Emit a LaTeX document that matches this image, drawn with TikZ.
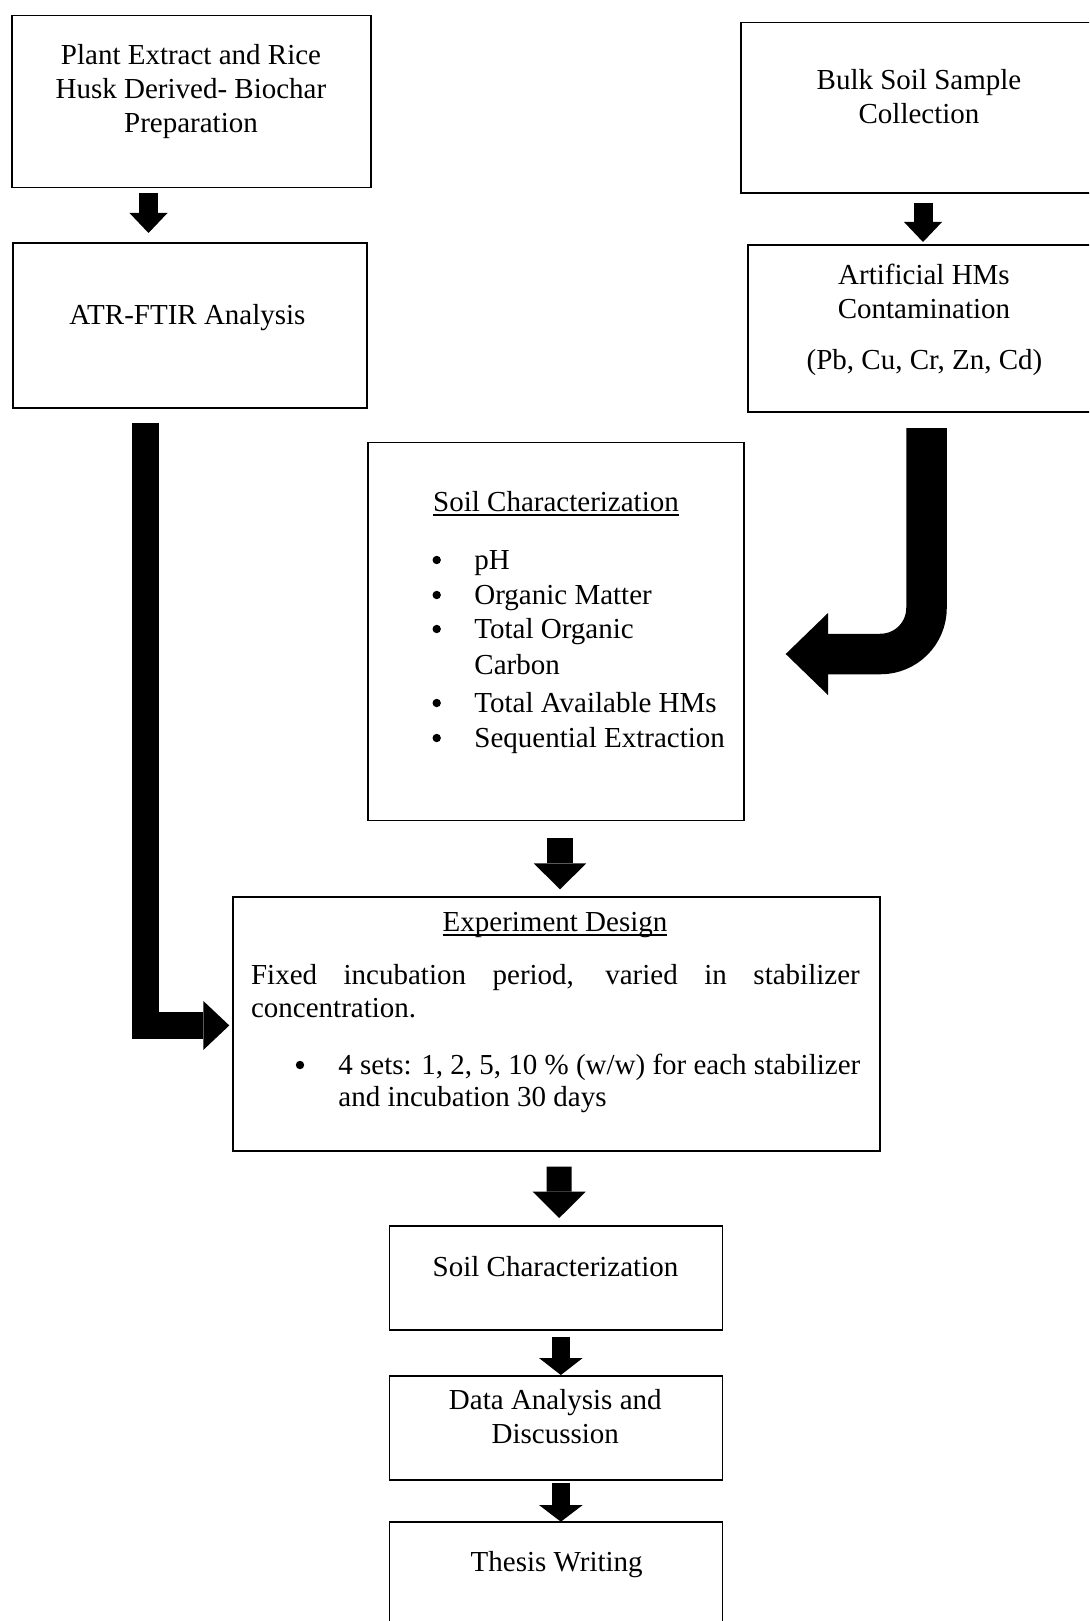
\documentclass[tikz,border=0pt]{standalone}
\usepackage{fontspec}
\setmainfont{Liberation Serif}
\usetikzlibrary{arrows.meta,calc}
\newcommand\ulin[1]{\setbox0=\hbox{#1}\rlap{\rule[-2.4pt]{\wd0}{0.8pt}}\box0}
\begin{document}
\begin{tikzpicture}[x=0.5pt,y=-0.5pt,
  box/.style={draw, line width=0.8pt, rectangle, inner sep=0pt, outer sep=0pt},
  txt/.style={inner sep=0pt, font=\fontsize{14.5}{17}\selectfont, align=center},
  tl/.style={txt, anchor=base west},
  barrow/.style n args={3}{line width=#1, -{Triangle[length=#3, width=#2, line width=0pt]}},
 ]
\fill[white] (0,0) rectangle (1089,1621);
\useasboundingbox (0,0) rectangle (1089,1621);
\clip (0,0) rectangle (1089,1621);

% boxes
\node[box, minimum width=179.5pt, minimum height=86pt] (plant) at (191.5,101.7) {};
\node[box, minimum width=177.15pt, minimum height=82.5pt] (atr) at (189.85,325.5) {};
\node[box, minimum width=178.15pt, minimum height=85.15pt] (bulk) at (918.85,107.85) {};
\node[box, minimum width=176.15pt, minimum height=83.5pt] (art) at (923.85,328.5) {};
\node[box, minimum width=188pt, minimum height=189pt] (soilc) at (556,631.5) {};
\node[box, minimum width=323.65pt, minimum height=127.15pt] (exp) at (556.35,1023.85) {};
\node[box, minimum width=166.5pt, minimum height=52pt] (soil2) at (555.8,1278) {};
\node[box, minimum width=166.5pt, minimum height=52pt] (data) at (555.8,1428) {};
\node[box, minimum width=166.5pt, minimum height=59.15pt] (thesis) at (555.8,1580.85) {};

% texts
\node[txt, anchor=north] (plantT) at (191,40.2) {\strut Plant Extract and Rice\\Husk Derived- Biochar\\Preparation};
\node[txt, anchor=base] (atrT) at (187.5,324) {ATR-FTIR Analysis};
\node[txt, anchor=north] (bulkT) at (919,65.2) {\strut Bulk Soil Sample\\Collection};
\node[txt, anchor=north] (artT) at (924,260.2) {\strut Artificial HMs\\Contamination};
\node[txt, anchor=base] (artM) at (924.5,369) {(Pb, Cu, Cr, Zn, Cd)};

\node[txt, anchor=base] (soilcH) at (556,511) {\ulin{Soil Characterization}};
\fill (436.7,560) circle (2.1pt);
\node[tl] (sc1) at (474,569) {pH};
\fill (436.7,595) circle (2.1pt);
\node[tl] (sc2) at (474,604) {Organic Matter};
\fill (436.7,629) circle (2.1pt);
\node[tl] (sc3) at (474,638) {Total Organic};
\node[tl] (sc3b) at (474,674) {Carbon};
\fill (436.7,703) circle (2.1pt);
\node[tl] (sc4) at (474,712) {Total Available HMs};
\fill (436.7,738) circle (2.1pt);
\node[tl] (sc5) at (474,747) {Sequential Extraction};

\node[txt, anchor=base] (expH) at (555,931) {\ulin{Experiment Design}};
\node[tl] (expL1) at (250.7,984) {\makebox[304.3pt][s]{Fixed incubation period, varied in stabilizer}};
\node[tl] (expL2) at (250.7,1017) {concentration.};
\fill (300,1065) circle (2.1pt);
\node[tl] (expL3) at (338,1074) {4 sets: 1, 2, 5, 10 \% (w/w) for each stabilizer};
\node[tl] (expL4) at (338,1106) {and incubation 30 days};

\node[txt, anchor=base] (soil2T) at (555.5,1276) {Soil Characterization};
\node[txt, anchor=north] (dataT) at (555.3,1385.2) {\strut Data Analysis and\\Discussion};
\node[txt, anchor=base] (thesisT) at (556.7,1571) {Thesis Writing};

% arrows
\draw[barrow={9.5pt}{19pt}{10pt}] ($(plant.south)+(-43,5.3)$) -- ($(atr.north)+(-41.35,-10)$);
\draw[barrow={9.5pt}{19pt}{10pt}] ($(bulk.south)+(4.15,10)$) -- ($(art.north)+(-0.85,-3)$);
\draw[barrow={13.25pt}{24.5pt}{13pt}, line join=miter] ($(atr.south)+(-44.35,15)$) |- ($(exp.west)+(-3.4,1.6)$);
\draw[barrow={20.25pt}{41pt}{21.15pt}, rounded corners=23pt] ($(art.south)+(2.65,16)$) |- ($(soilc.east)+(41.7,22.5)$);
\draw[barrow={13.3pt}{26.35pt}{13pt}] ($(soilc.south)+(4,17.8)$) -- ($(exp.north)+(3.65,-7.4)$);
\draw[barrow={12.5pt}{26.5pt}{13.15pt}] ($(exp.south)+(2.85,15.7)$) -- ($(soil2.north)+(3.4,-8)$);
\draw[barrow={9.15pt}{21.85pt}{8.5pt}] ($(soil2.south)+(5.05,6.7)$) -- ($(data.north)+(5.05,-1)$);
\draw[barrow={9.15pt}{21.85pt}{8.35pt}] ($(data.south)+(5.05,3)$) -- ($(thesis.north)+(5.05,0)$);
\end{tikzpicture}
\end{document}
